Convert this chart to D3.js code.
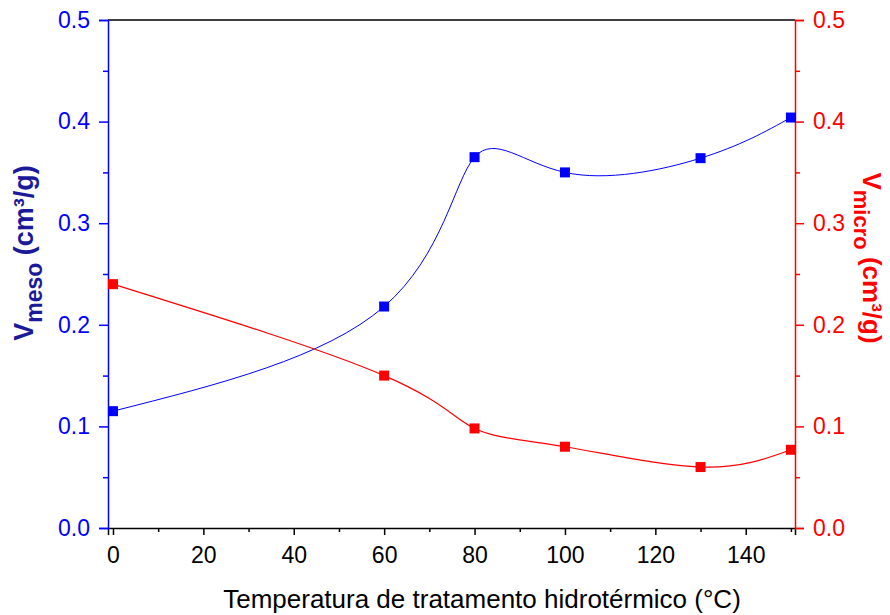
<!DOCTYPE html>
<html>
<head>
<meta charset="utf-8">
<script src="https://cdn.jsdelivr.net/npm/d3@7"></script>
<style>
  body { margin: 0; background: #fff; }
  text { font-family: "Liberation Sans", Arial, sans-serif; }
</style>
</head>
<body>
<div id="chart"></div>
<script>
// temperatures (°C)
const temps = [0, 60, 80, 100, 130, 150];
// mesopore volume (left axis)
const vMeso = [0.115, 0.218, 0.365, 0.350, 0.364, 0.404];
// micropore volume (right axis)
const vMicro = [0.240, 0.150, 0.098, 0.080, 0.060, 0.077];

const xTicks = [0, 20, 40, 60, 80, 100, 120, 140];
const yTicks = [0.0, 0.1, 0.2, 0.3, 0.4, 0.5];

let margin = {top: 20, right: 95, bottom: 87, left: 108},
  width = 890 - margin.left - margin.right,
  height = 615 - margin.top - margin.bottom;

let svg = d3.select("#chart")
  .append("svg")
    .attr("width", 890)
    .attr("height", 615)
  .append("g")
    .attr("transform", "translate(" + margin.left + "," + margin.top + ")");

let xScale = d3.scaleLinear().domain([-1.1, 150.9]).range([0, width]);
let yLeft = d3.scaleLinear().domain([0, 0.5]).range([height, 0]);
let yRight = d3.scaleLinear().domain([0, 0.5]).range([height, 0]);

// top frame line
svg.append("line")
  .attr("x1", 0).attr("x2", width)
  .attr("y1", 0).attr("y2", 0)
  .attr("stroke", "black").attr("stroke-width", 1.5);

// bottom axis
let xAxis = svg.append("g").attr("transform", "translate(0," + height + ")");
xAxis.call(d3.axisBottom(xScale).tickValues(d3.range(10, 151, 20)).tickSize(4).tickFormat(""));
xAxis.call(g => g.select(".domain").remove());
let xMajor = svg.append("g").attr("transform", "translate(0," + height + ")")
  .call(d3.axisBottom(xScale).tickValues(xTicks).tickSize(7).tickPadding(12).tickFormat(d3.format("d")));
xMajor.select(".domain").attr("stroke-width", 1.5);
svg.selectAll("g.tick line").attr("stroke-width", 1.5);
xMajor.selectAll("text").attr("font-size", 23).attr("fill", "black");

// left axis
let minorY = d3.range(0.05, 0.5, 0.1);
let leftMinor = svg.append("g").call(d3.axisLeft(yLeft).tickValues(minorY).tickSize(5).tickFormat(""));
leftMinor.select(".domain").remove();
leftMinor.selectAll("line").attr("stroke", "#0000ff").attr("stroke-width", 1.5);
let leftAxis = svg.append("g")
  .call(d3.axisLeft(yLeft).tickValues(yTicks).tickSize(9).tickPadding(9).tickFormat(d3.format(".1f")));
leftAxis.select(".domain").attr("stroke", "#0000ff").attr("stroke-width", 1.5);
leftAxis.selectAll("line").attr("stroke", "#0000ff").attr("stroke-width", 1.5);
leftAxis.selectAll("text").attr("font-size", 23).attr("fill", "#0000ff");

// right axis
let rightMinor = svg.append("g").attr("transform", "translate(" + width + ",0)")
  .call(d3.axisRight(yRight).tickValues(minorY).tickSize(5).tickFormat(""));
rightMinor.select(".domain").remove();
rightMinor.selectAll("line").attr("stroke", "#ff0000").attr("stroke-width", 1.5);
let rightAxis = svg.append("g").attr("transform", "translate(" + width + ",0)")
  .call(d3.axisRight(yRight).tickValues(yTicks).tickSize(9).tickPadding(9).tickFormat(d3.format(".1f")));
rightAxis.select(".domain").attr("stroke", "#ff0000").attr("stroke-width", 1.5);
rightAxis.selectAll("line").attr("stroke", "#ff0000").attr("stroke-width", 1.5);
rightAxis.selectAll("text").attr("font-size", 23).attr("fill", "#ff0000");

// curves
let blueData = temps.map((t, i) => [t, vMeso[i]]);
let redData = temps.map((t, i) => [t, vMicro[i]]);

svg.append("path")
  .datum(blueData)
  .attr("fill", "none").attr("stroke", "#0000ff").attr("stroke-width", 1)
  .attr("d", d3.line().x(d => xScale(d[0])).y(d => yLeft(d[1])).curve(d3.curveNatural));
svg.append("path")
  .datum(redData)
  .attr("fill", "none").attr("stroke", "#ff0000").attr("stroke-width", 1.2)
  .attr("d", d3.line().x(d => xScale(d[0])).y(d => yRight(d[1])).curve(d3.curveNatural));

let s = 10;
svg.append("g").selectAll("rect")
  .data(blueData).join("rect")
  .attr("x", d => xScale(d[0]) - s / 2).attr("y", d => yLeft(d[1]) - s / 2)
  .attr("width", s).attr("height", s).attr("fill", "#0000ff");
svg.append("g").selectAll("rect")
  .data(redData).join("rect")
  .attr("x", d => xScale(d[0]) - s / 2).attr("y", d => yRight(d[1]) - s / 2)
  .attr("width", s).attr("height", s).attr("fill", "#ff0000");

// x title
svg.append("text")
  .attr("x", 374).attr("y", height + 80)
  .attr("text-anchor", "middle").attr("font-size", 26).attr("fill", "black")
  .text("Temperatura de tratamento hidrotérmico (°C)");

// left title
let lt = svg.append("text")
  .attr("transform", "translate(" + (-75) + "," + (height / 2 - 21) + ") rotate(-90)")
  .attr("text-anchor", "middle").attr("font-size", 27).attr("font-weight", "bold").attr("fill", "#1a1a9a");
lt.append("tspan").text("V");
lt.append("tspan").attr("dy", 9).attr("font-size", 23).text("meso");
lt.append("tspan").attr("dy", -9).text(" (cm³/g)");

// right title
let rt = svg.append("text")
  .attr("transform", "translate(" + (width + 68) + "," + (height / 2 - 16) + ") rotate(90)")
  .attr("text-anchor", "middle").attr("font-size", 26).attr("font-weight", "bold").attr("fill", "#ff0000");
rt.append("tspan").text("V");
rt.append("tspan").attr("dy", 9).attr("font-size", 22).text("micro");
rt.append("tspan").attr("dy", -9).text(" (cm³/g)");
</script>
</body>
</html>
